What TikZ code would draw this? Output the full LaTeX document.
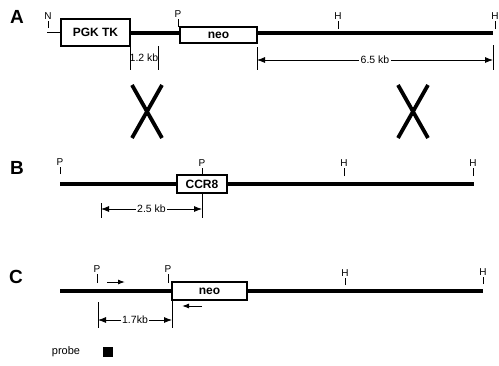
\documentclass[tikz,border=0pt]{standalone}
\usepackage{fontspec}
\setmainfont{Liberation Sans}
\usetikzlibrary{arrows.meta}
% restriction site: name, x, tick bottom, tick top, label
\newcommand\site[5]{\draw[tick] (#2,#3) -- (#2,#4) node[sitelabel, above=1pt] (#1) {#5};}

\begin{document}
\begin{tikzpicture}[x=1pt, y=-1pt,
		dna/.style={line width=4.8pt},
		gene/.style={draw, line width=1.7pt, inner sep=0pt, font=\bfseries\fontsize{12}{12}\selectfont},
		tick/.style={line width=0.9pt},
		sitelabel/.style={font=\fontsize{10}{10}\selectfont, inner sep=0pt},
		ext/.style={line width=0.8pt},
		dim/.style={line width=0.8pt, {Latex[length=8pt,width=6pt]}-{Latex[length=8pt,width=6pt]}},
		kb/.style={font=\fontsize{10.5}{10.5}\selectfont, fill=white, inner xsep=1.5pt, inner ysep=0pt},
		panel/.style={font=\bfseries\fontsize{19}{19}\selectfont, inner sep=0pt},
		cross/.style={line width=3.8pt},
		primer/.style={line width=1pt, -{Latex[length=7pt,width=5pt]}}]
			%%%%% START %%%%%
			\useasboundingbox (0,0) rectangle (499,365);
			
			% A: targeting vector
			\node[panel] (A) at (17,17) {A};
			\coordinate (lineA) at (0,33);
			\node[gene, minimum width=69pt, minimum height=27pt] (pgk) at (95.5,32.5) {PGK TK};
			\node[gene, minimum width=77pt, minimum height=16pt] (neoA) at (218.5,35) {neo};
			\coordinate (nEnd) at (47,32.5);
			\draw[line width=0.8pt] (nEnd) -- (pgk.west);
			\draw[line width=3.8pt] (pgk.east |- lineA) -- (neoA.west |- lineA);
			\draw[dna] (neoA.east |- lineA) -- (493,33) coordinate (aEnd);
			
			\site{nA}{48}{28}{21}{N}
			\site{pA}{178}{27}{19}{P}
			\site{hA1}{338}{29}{21}{H}
			\site{hA2}{495}{29}{21}{H}
			
			\draw[ext] (130,46) coordinate (a12l) -- (130,70);
			\draw[ext] (158,46) coordinate (a12r) -- (158,70);
			\node[font=\fontsize{10.5}{10.5}\selectfont, inner sep=0pt] (kb12) at (144,58) {1.2 kb};
			\draw[ext] (257,47) -- (257,70);
			\draw[ext] (493,45) -- (493,70);
			\draw[dim] (257,60) coordinate (a65l) -- node[kb] (kb65) {6.5 kb} (493,60) coordinate (a65r);
			
			% recombination
			\foreach \cx in {147,413} {
				\draw[cross] (\cx-15,85) -- (\cx+15,138) (\cx+15,85) -- (\cx-15,138);
			}
			
			% B: wild-type locus
			\node[panel] (B) at (17,168) {B};
			\node[gene, minimum width=50pt, minimum height=18pt] (ccr) at (202,184) {CCR8};
			\draw[dna] (60,184) coordinate (bStart) -- (ccr.west);
			\draw[dna] (ccr.east) -- (474,184) coordinate (bEnd);
			
			\site{pB1}{60}{174}{167}{P}
			\site{pB2}{202}{175}{168}{P}
			\site{hB1}{344}{176}{168}{H}
			\site{hB2}{473}{176}{168}{H}
			
			\draw[ext] (101,203) -- (101,218);
			\draw[ext] (ccr.south) -- (202,218);
			\draw[dim] (101,209) coordinate (b25l) -- node[kb] (kb25) {2.5 kb} (202,209) coordinate (b25r);
			
			% C: targeted locus
			\node[panel] (C) at (16,277) {C};
			\node[gene, minimum width=75pt, minimum height=18pt] (neoC) at (209.5,291) {neo};
			\draw[dna] (60,291) coordinate (cStart) -- (neoC.west);
			\draw[dna] (neoC.east) -- (483,291) coordinate (cEnd);
			
			\site{pC1}{97}{283}{274}{P}
			\site{pC2}{168}{283}{274}{P}
			\site{hC1}{345}{285}{278}{H}
			\site{hC2}{483}{284}{277}{H}
			
			\draw[primer] (107,282) coordinate (fwd) -- (125,282);
			\draw[primer] (202,306) coordinate (rev) -- (182,306);
			
			\draw[ext] (98,302) -- (98,328);
			\draw[ext] (neoC.south -| 172,0) -- (172,328);
			\draw[dim] (98,320) coordinate (c17l) -- node[kb] (kb17) {1.7kb} (172,320) coordinate (c17r);
			
			% legend
			\node[font=\fontsize{11}{11}\selectfont, inner sep=0pt] (probe) at (66,352) {probe};
			\node[fill, minimum size=10pt, inner sep=0pt] (probebox) at (107.5,352) {};
			%%%%% END %%%%%
\end{tikzpicture}
\end{document}
